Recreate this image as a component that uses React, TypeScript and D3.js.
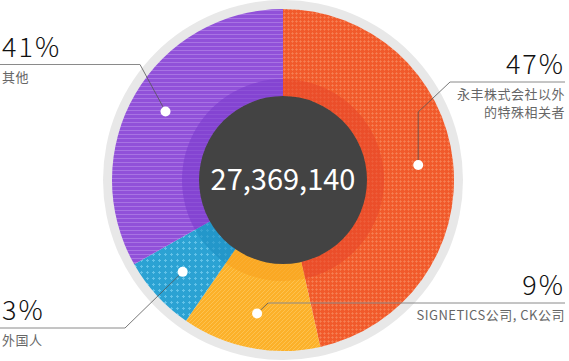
import { useEffect } from 'react'
import * as d3 from 'd3'

// slice sizes as drawn (angles), labels as printed
const categories = ['永丰株式会社以外的特殊相关者', 'SIGNETICS公司, CK公司', '外国人', '其他']
const sliceValues = [46.5, 13.1, 7.2, 33.2]
const percentLabels = ['47%', '9%', '3%', '41%']
const nameLines = [['永丰株式会社以外', '的特殊相关者'], ['SIGNETICS公司, CK公司'], ['外国人'], ['其他']]
const total = '27,369,140'

const COLORS = ['#f15a2b', '#fcb12a', '#2ba2d3', '#9151d9']
const LIGHT = ['#f7875c', '#fec75a', '#63c2e8', '#a874e3']
const BAND = ['#e8462a', '#f9a21f', '#1e8fc5', '#7c3ccd']
const W = 569
const H = 361
const CX = 283
const CY = 180
const R = 171
const FONT = '"Noto Sans CJK SC", "Noto Sans", sans-serif'

export default function App() {
  useEffect(() => {
    document.body.style.margin = '0'
  }, [])

  const pie = d3.pie<number>().sort(null).value(d => d)
  const arcs = pie(sliceValues)
  const outer = d3.arc<d3.PieArcDatum<number>>().innerRadius(0).outerRadius(R)
  const band = d3.arc<d3.PieArcDatum<number>>().innerRadius(84).outerRadius(101)

  const dot = (a: d3.PieArcDatum<number>) => {
    const m = (a.startAngle + a.endAngle) / 2
    return [CX + Math.sin(m) * 136, CY - Math.cos(m) * 136]
  }

  // leader line routes built from each slice's dot
  const routes = arcs.map((a, i) => {
    const [x, y] = dot(a)
    if (i === 0) return { pts: [[x, y], [x, 112], [450, 82]], hy: 82, side: 'right' }
    if (i === 1) return { pts: [[x, y], [268, 303]], hy: 303, side: 'right' }
    if (i === 2) return { pts: [[x, y], [125, 328]], hy: 328, side: 'left' }
    return { pts: [[x, y], [140, 64.5]], hy: 64.5, side: 'left' }
  })

  const line = d3.line()

  return (
    <svg width={W} height={H} style={{ display: 'block' }}>
      <defs>
        <pattern id="p0" width="4" height="4" patternUnits="userSpaceOnUse">
          <rect width="4" height="4" fill={COLORS[0]} />
          <rect x="1" y="0" width="1" height="3" fill={LIGHT[0]} opacity="0.6" />
          <rect x="0" y="1" width="3" height="1" fill={LIGHT[0]} opacity="0.6" />
        </pattern>
        <pattern id="p1" width="4" height="4" patternUnits="userSpaceOnUse">
          <rect width="4" height="4" fill={COLORS[1]} />
          <path d="M-1,1 l2,-2 M0,4 l4,-4 M3,5 l2,-2" stroke={LIGHT[1]} strokeWidth="1" opacity="0.8" />
        </pattern>
        <pattern id="p2" width="6" height="6" patternUnits="userSpaceOnUse">
          <rect width="6" height="6" fill={COLORS[2]} />
          <rect x="2" y="1" width="1" height="3" fill={LIGHT[2]} />
          <rect x="1" y="2" width="3" height="1" fill={LIGHT[2]} />
        </pattern>
        <pattern id="p3" width="4" height="4" patternUnits="userSpaceOnUse">
          <rect width="4" height="4" fill={COLORS[3]} />
          <rect x="0" y="2" width="4" height="1" fill={LIGHT[3]} />
        </pattern>
      </defs>

      <circle cx={CX} cy={CY} r={R + 9} fill="#e8e8e8" />
      <g transform={`translate(${CX},${CY})`}>
        {arcs.map((a, i) => (
          <path key={categories[i]} d={outer(a) || ''} fill={`url(#p${i})`} />
        ))}
        {arcs.map((a, i) => (
          <path key={'b' + i} d={band(a) || ''} fill={BAND[i]} opacity="0.6" />
        ))}
        <circle r={84} fill="#434343" />
        <text y={10} textAnchor="middle" fill="#fff" fontSize="29" fontFamily={FONT}>
          {total}
        </text>
      </g>

      {routes.map((r, i) => {
        const [ex, ey] = r.pts[r.pts.length - 1]
        const right = r.side === 'right'
        const x0 = right ? ex : 0
        const x1 = right ? 565 : ex
        const tx = right ? 565 : 2
        const anchor = right ? 'end' : 'start'
        return (
          <g key={'l' + i}>
            <path d={line(r.pts as [number, number][]) || ''} fill="none" stroke="#555" strokeWidth="0.8" />
            <line x1={x0} x2={x1} y1={r.hy} y2={r.hy} stroke="#8a8a8a" strokeWidth="1" />
            <circle cx={r.pts[0][0]} cy={r.pts[0][1]} r={5} fill="#fff" />
            <text x={tx} y={r.hy - 8} textAnchor={anchor} fontSize="27" fontWeight="300"
              letterSpacing="2" fill="#111" fontFamily={FONT}>
              {percentLabels[i]}
            </text>
            {nameLines[i].map((t, j) => (
              <text key={j} x={tx} y={r.hy + 17 + j * 18} textAnchor={anchor} fontSize="13"
                letterSpacing="0.5" fill="#666" fontFamily={FONT}>
                {t}
              </text>
            ))}
          </g>
        )
      })}
    </svg>
  )
}
